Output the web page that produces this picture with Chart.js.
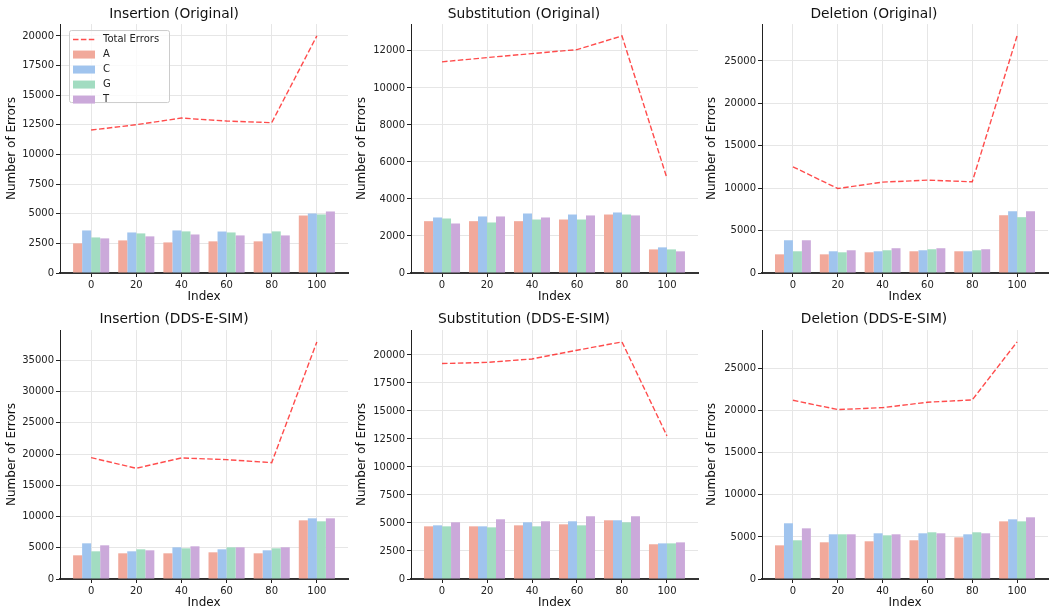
<!DOCTYPE html>
<html>
<head>
<meta charset="utf-8">
<script src="https://cdn.jsdelivr.net/npm/chart.js@4"></script>
<style>
  body { margin: 0; background: #fff; width: 1050px; height: 610px; position: relative; overflow: hidden; }
  canvas { position: absolute; }
</style>
</head>
<body>
<canvas id="c0" width="350" height="306" style="left:0;top:0"></canvas>
<canvas id="c1" width="350" height="306" style="left:350px;top:0"></canvas>
<canvas id="c2" width="350" height="306" style="left:700px;top:0"></canvas>
<canvas id="c3" width="350" height="310" style="left:0;top:300px"></canvas>
<canvas id="c4" width="350" height="310" style="left:350px;top:300px"></canvas>
<canvas id="c5" width="350" height="310" style="left:700px;top:300px"></canvas>
<script>
// x categories
const xLabels = ['0', '20', '40', '60', '80', '100'];

// Insertion (Original)
const insOrigA = [2500, 2750, 2580, 2670, 2670, 4850];
const insOrigC = [3590, 3420, 3590, 3500, 3340, 5020];
const insOrigG = [3000, 3340, 3510, 3420, 3510, 4940];
const insOrigT = [2920, 3090, 3250, 3170, 3170, 5190];
const insOrigTotal = [12060, 12510, 13070, 12820, 12680, 20000];

// Substitution (Original)
const subOrigA = [2800, 2800, 2800, 2890, 3160, 1275];
const subOrigC = [3000, 3055, 3215, 3160, 3270, 1385];
const subOrigG = [2945, 2730, 2890, 2890, 3160, 1275];
const subOrigT = [2675, 3055, 3000, 3110, 3110, 1170];
const subOrigTotal = [11410, 11640, 11855, 12070, 12810, 5120];

// Deletion (Original)
const delOrigA = [2200, 2200, 2440, 2560, 2560, 6810];
const delOrigC = [3860, 2560, 2560, 2680, 2560, 7280];
const delOrigG = [2560, 2440, 2680, 2800, 2680, 6580];
const delOrigT = [3860, 2680, 2920, 2920, 2800, 7280];
const delOrigTotal = [12520, 9960, 10710, 10950, 10750, 27950];

// Insertion (DDS-E-SIM)
const insDdsA = [3790, 4110, 4110, 4270, 4110, 9390];
const insDdsC = [5710, 4430, 5070, 4750, 4590, 9710];
const insDdsG = [4430, 4750, 4910, 5070, 4910, 9230];
const insDdsT = [5390, 4590, 5230, 5070, 5070, 9710];
const insDdsTotal = [19420, 17720, 19370, 19100, 18620, 37940];

// Substitution (DDS-E-SIM)
const subDdsA = [4700, 4700, 4790, 4880, 5240, 3100];
const subDdsC = [4790, 4700, 5060, 5150, 5240, 3180];
const subDdsG = [4700, 4610, 4700, 4790, 5060, 3180];
const subDdsT = [5060, 5330, 5150, 5600, 5600, 3270];
const subDdsTotal = [19230, 19330, 19640, 20420, 21160, 12770];

// Deletion (DDS-E-SIM)
const delDdsA = [4000, 4360, 4480, 4600, 4950, 6850];
const delDdsC = [6620, 5310, 5430, 5430, 5310, 7090];
const delDdsG = [4600, 5310, 5190, 5550, 5550, 6850];
const delDdsT = [6020, 5310, 5310, 5430, 5430, 7330];
const delDdsTotal = [21240, 20130, 20360, 21000, 21280, 28170];

const baseColors = { A: '#f1a99b', C: '#a0c4ee', G: '#a2dcc1', T: '#cba9da' };
const lineColor = 'rgba(255, 0, 0, 0.7)';
const FONT = 'DejaVu Sans';

// legend drawn inside the plot, upper left (first panel only)
const innerLegend = {
  id: 'innerLegend',
  afterDraw(chart, args, opts) {
    if (!opts.show) return;
    const ctx = chart.ctx;
    const a = chart.chartArea;
    const x0 = a.left + 9, y0 = a.top + 6, w = 100, h = 72;
    ctx.save();
    ctx.fillStyle = 'rgba(255,255,255,0.8)';
    ctx.strokeStyle = '#cccccc';
    ctx.lineWidth = 1;
    ctx.beginPath();
    ctx.roundRect(x0 + 0.5, y0 + 0.5, w, h, 2);
    ctx.fill();
    ctx.stroke();
    ctx.font = '10px "' + FONT + '"';
    ctx.textBaseline = 'middle';
    const ds = chart.data.datasets;
    const order = [ds.length - 1, 0, 1, 2, 3];
    order.forEach((di, i) => {
      const d = ds[di];
      const cy = y0 + 9.5 + i * 15;
      if (d.type === 'line') {
        ctx.strokeStyle = lineColor;
        ctx.lineWidth = 1.4;
        ctx.setLineDash([5.5, 2.4]);
        ctx.beginPath();
        ctx.moveTo(x0 + 4, cy);
        ctx.lineTo(x0 + 26, cy);
        ctx.stroke();
        ctx.setLineDash([]);
      } else {
        ctx.fillStyle = d.backgroundColor;
        ctx.fillRect(x0 + 4, cy - 4, 22, 8);
      }
      ctx.fillStyle = '#222';
      ctx.fillText(d.label, x0 + 34, cy);
    });
    ctx.restore();
  }
};

function makeChart(id, title, A, C, G, T, total, step, yWidth, row, showLegend) {
  const toXY = arr => arr.map((v, i) => ({ x: i, y: v }));
  const yMax = Math.max(...total, ...A, ...C, ...G, ...T) * 1.05;
  const bar = (label, arr) => ({
    type: 'bar', label: label, data: toXY(arr),
    backgroundColor: baseColors[label], borderWidth: 0,
    categoryPercentage: 0.8, barPercentage: 1.0, order: 2
  });
  new Chart(document.getElementById(id), {
    data: {
      datasets: [
        bar('A', A), bar('C', C), bar('G', G), bar('T', T),
        {
          type: 'line', label: 'Total Errors', data: toXY(total),
          borderColor: lineColor, borderWidth: 1.4, borderDash: [5.5, 2.4],
          pointRadius: 0, fill: false, tension: 0, order: 1
        }
      ]
    },
    options: {
      responsive: false,
      animation: false,
      layout: { padding: { left: 0, right: 2, top: 0, bottom: 0 } },
      plugins: {
        legend: { display: false },
        tooltip: { enabled: false },
        title: {
          display: true, text: title, color: '#111',
          font: { family: FONT, size: 13.8, weight: 'normal' },
          padding: row === 0 ? { top: 6.5, bottom: 1 } : { top: 11.5, bottom: 2 }
        },
        innerLegend: { show: showLegend }
      },
      scales: {
        x: {
          type: 'linear', offset: false,
          min: -0.69, max: 5.69,
          afterBuildTicks: s => { s.ticks = xLabels.map((l, i) => ({ value: i })); },
          afterFit: s => { s.height = row === 0 ? 33 : 31; },
          ticks: { callback: v => xLabels[v], color: '#222', font: { family: FONT, size: 10 }, padding: 2, maxRotation: 0 },
          grid: { color: '#e6e6e6', lineWidth: 1, offset: false, tickColor: '#222', tickLength: 4 },
          border: { display: true, color: '#333', width: 2 },
          title: {
            display: true, text: 'Index', color: '#111',
            font: { family: FONT, size: 12 },
            padding: { top: 0, bottom: row === 0 ? 1.8 : 0 }
          }
        },
        y: {
          min: 0, max: yMax,
          afterBuildTicks: s => {
            const t = [];
            for (let v = 0; v <= yMax; v += step) t.push({ value: v });
            s.ticks = t;
          },
          afterFit: s => { s.width = yWidth; },
          ticks: {
            callback: v => String(v), color: '#222',
            font: { family: FONT, size: 10 }, padding: 2
          },
          grid: { color: '#e6e6e6', lineWidth: 1, tickColor: '#222', tickLength: 4 },
          border: { display: true, color: '#222', width: 1 },
          title: {
            display: true, text: 'Number of Errors', color: '#111',
            font: { family: FONT, size: 12 },
            padding: { top: 5, bottom: 0 }
          }
        }
      }
    },
    plugins: [innerLegend]
  });
}

makeChart('c0', 'Insertion (Original)', insOrigA, insOrigC, insOrigG, insOrigT, insOrigTotal, 2500, 60, 0, true);
makeChart('c1', 'Substitution (Original)', subOrigA, subOrigC, subOrigG, subOrigT, subOrigTotal, 2000, 61, 0, false);
makeChart('c2', 'Deletion (Original)', delOrigA, delOrigC, delOrigG, delOrigT, delOrigTotal, 5000, 62, 0, false);
makeChart('c3', 'Insertion (DDS-E-SIM)', insDdsA, insDdsC, insDdsG, insDdsT, insDdsTotal, 5000, 60, 1, false);
makeChart('c4', 'Substitution (DDS-E-SIM)', subDdsA, subDdsC, subDdsG, subDdsT, subDdsTotal, 2500, 61, 1, false);
makeChart('c5', 'Deletion (DDS-E-SIM)', delDdsA, delDdsC, delDdsG, delDdsT, delDdsTotal, 5000, 62, 1, false);
</script>
</body>
</html>
